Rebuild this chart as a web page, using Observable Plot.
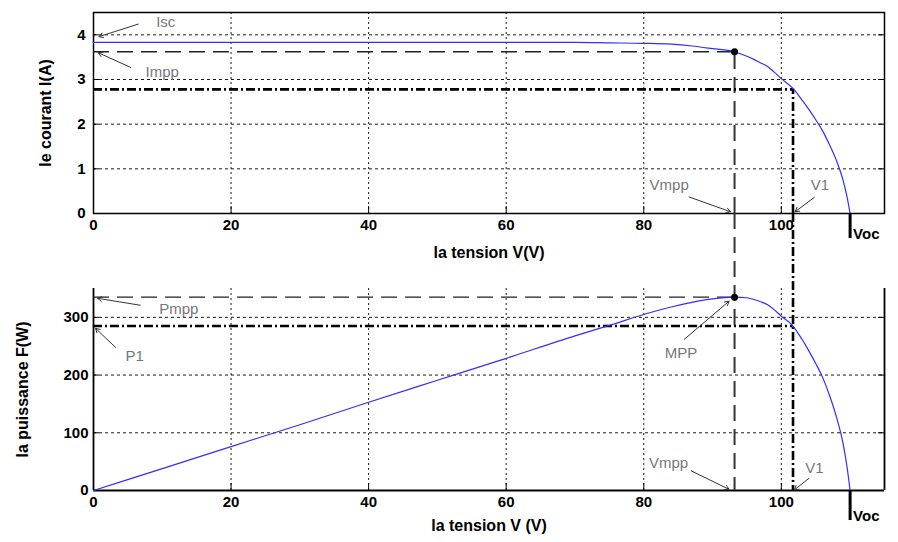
<!DOCTYPE html>
<html><head><meta charset="utf-8">
<script src="https://cdn.jsdelivr.net/npm/d3@7"></script>
<script src="https://cdn.jsdelivr.net/npm/@observablehq/plot@0.6"></script>
<style>
body{margin:0;background:#fff;width:898px;height:542px;overflow:hidden}
#chart{position:relative;width:898px;height:542px}
#chart svg{display:block;overflow:visible;background:transparent}
</style></head><body><div id="chart"></div>
<script>
// ---- data ----
const voltage = [0,10,20,30,40,50,60,70,75,80,84,87,90,93.2,95,96,97,98,99,100,101.7,103,104,105,106,107,108,109,109.5,110];
const current = [3.83,3.83,3.83,3.83,3.83,3.83,3.83,3.83,3.82,3.81,3.79,3.75,3.69,3.62,3.52,3.45,3.37,3.29,3.16,3.02,2.8,2.54,2.33,2.1,1.85,1.54,1.19,0.73,0.41,0];
const power   = [0,38,76,114,153,191,229,268,286,305,318,326,332,335,334,331,327,322,313,302,285,262,242,220,196,165,128,80,45,0];

const xTicks = [0,20,40,60,80,100];
const iTicks = [0,1,2,3,4];
const pTicks = [0,100,200,300];

const Isc = 3.83, Voc = 110, Vmpp = 93.2, Impp = 3.62, Pmpp = 335, V1 = 101.7, I1 = 2.78, P1 = 285;

const topNotes = [
  {label:"Isc",  tx:10.5,  ty:4.29, x1:6.5,  y1:4.24, x2:0.8,  y2:3.96},
  {label:"Impp", tx:10,    ty:3.17, x1:5.4,  y1:3.27, x2:0.7,  y2:3.6},
  {label:"Vmpp", tx:83.7,  ty:0.63, x1:86.6, y1:0.37, x2:92.6, y2:0.04},
  {label:"V1",   tx:105.6, ty:0.63, x1:104.8,y1:0.36, x2:102,  y2:0.04}
];
const botNotes = [
  {label:"Pmpp", tx:12.4,  ty:314, x1:6.8,  y1:321, x2:0.6,  y2:333},
  {label:"P1",   tx:6,     ty:233, x1:3.2,  y1:248, x2:0.3,  y2:281},
  {label:"MPP",  tx:85.4,  ty:238, x1:85.9, y1:262, x2:92.4, y2:328},
  {label:"Vmpp", tx:83.6,  ty:47,  x1:86.9, y1:34,  x2:92.4, y2:2},
  {label:"V1",   tx:104.8, ty:38,  x1:104,  y1:21,  x2:101.9,y2:1}
];

// ---- layout / style ----
const FONT = "'Liberation Sans', Arial, sans-serif";
const W = 898, ML = 93, MR = 14;
const innerW = W - ML - MR;
const TOP = {h:265, mt:12, mb:52};
const BOT = {h:277, mt:23, mb:52};
const topInnerH = TOP.h - TOP.mt - TOP.mb;
const botInnerH = BOT.h - BOT.mt - BOT.mb;

const gridH = {stroke:"#000", strokeWidth:0.9, strokeDasharray:"3,3"};
const gridV = {stroke:"#000", strokeWidth:0.9, strokeDasharray:"2,3"};
const longDash = {stroke:"#222", strokeWidth:1.4, strokeDasharray:"16,8"};
const vDash = {stroke:"#333", strokeWidth:2, strokeDasharray:"16,8"};
const dashDot = {stroke:"#000", strokeWidth:2.6, strokeDasharray:"9,3,2,3"};
const curve = {stroke:"#2f2fff", strokeWidth:1.2, curve:"monotone-x"};
const noteText = {fill:"#777", fontSize:15};
const noteArrow = {stroke:"#333", strokeWidth:1, headLength:7};
const style = {fontFamily:FONT, fontSize:"15px", overflow:"visible", background:"transparent", color:"#000"};

const ivData = voltage.map((v,k)=>({v, i:current[k]}));
const pvData = voltage.map((v,k)=>({v, p:power[k]}));

const topPlot = Plot.plot({
  width:W, height:TOP.h, marginTop:TOP.mt, marginBottom:TOP.mb, marginLeft:ML, marginRight:MR,
  x:{domain:[0,115]}, y:{domain:[0,4.5]}, style,
  marks:[
    Plot.ruleX(xTicks.slice(1), gridV),
    Plot.ruleY(iTicks.slice(1), gridH),
    Plot.ruleX(xTicks, {stroke:"#000", insetTop:topInnerH-7}),
    Plot.ruleY(iTicks, {stroke:"#000", insetRight:innerW-6}),
    Plot.ruleY(iTicks, {stroke:"#000", insetLeft:innerW-6}),
    Plot.frame({stroke:"#000", strokeWidth:1.5}),
    Plot.axisX(xTicks, {tickSize:0, tickPadding:6, fontWeight:"bold", label:null}),
    Plot.axisY(iTicks, {tickSize:0, tickPadding:8, fontWeight:"bold", label:null}),
    Plot.ruleY([{y:Impp, x1:0, x2:Vmpp}], {y:"y", x1:"x1", x2:"x2", ...longDash}),
    Plot.ruleX([{x:Vmpp, y1:0, y2:Impp}], {x:"x", y1:"y1", y2:"y2", ...vDash}),
    Plot.ruleY([{y:I1, x1:0, x2:V1}], {y:"y", x1:"x1", x2:"x2", ...dashDot}),
    Plot.ruleX([{x:V1, y1:0, y2:I1}], {x:"x", y1:"y1", y2:"y2", ...dashDot}),
    Plot.line(ivData, {x:"v", y:"i", ...curve}),
    Plot.dot([{v:Vmpp, i:Impp}], {x:"v", y:"i", r:3.5, fill:"#000"}),
    Plot.ruleX([Voc], {stroke:"#000", strokeWidth:3, insetTop:topInnerH, insetBottom:-25}),
    Plot.text([Voc], {x:d=>d, frameAnchor:"bottom", dy:25, dx:3, text:()=>"Voc", textAnchor:"start", fontWeight:"bold", fontSize:15}),
    Plot.arrow(topNotes, {x1:"x1", y1:"y1", x2:"x2", y2:"y2", ...noteArrow}),
    Plot.text(topNotes, {x:"tx", y:"ty", text:"label", ...noteText}),
    Plot.text(["le courant I(A)"], {frameAnchor:"left", dx:-48, rotate:-90, textAnchor:"middle", text:d=>d, fontWeight:"bold", fontSize:16}),
    Plot.text(["la tension V(V)"], {frameAnchor:"bottom", dy:44, text:d=>d, fontWeight:"bold", fontSize:16})
  ]
});

const gap = BOT.mt + TOP.mb;
const botPlot = Plot.plot({
  width:W, height:BOT.h, marginTop:BOT.mt, marginBottom:BOT.mb, marginLeft:ML, marginRight:MR,
  x:{domain:[0,115]}, y:{domain:[0,350]}, style,
  marks:[
    Plot.ruleX(xTicks.slice(1), gridV),
    Plot.ruleY(pTicks.slice(1), gridH),
    Plot.ruleX(xTicks, {stroke:"#000", insetTop:botInnerH-7}),
    Plot.ruleY(pTicks, {stroke:"#000", insetRight:innerW-6}),
    Plot.ruleY(pTicks, {stroke:"#000", insetLeft:innerW-6}),
    Plot.ruleX([0, 115], {stroke:"#000", strokeWidth:1.8}),
    Plot.ruleY([0], {stroke:"#000", strokeWidth:1.8}),
    Plot.axisX(xTicks, {tickSize:0, tickPadding:6, fontWeight:"bold", label:null}),
    Plot.axisY(pTicks, {tickSize:0, tickPadding:5, fontWeight:"bold", label:null}),
    Plot.ruleY([{y:Pmpp, x1:0, x2:Vmpp}], {y:"y", x1:"x1", x2:"x2", ...longDash}),
    Plot.ruleY([{y:P1, x1:0, x2:V1}], {y:"y", x1:"x1", x2:"x2", ...dashDot}),
    Plot.ruleX([Vmpp], {...vDash, insetTop:-gap}),
    Plot.ruleX([V1], {...dashDot, insetTop:-gap}),
    Plot.line(pvData, {x:"v", y:"p", ...curve}),
    Plot.dot([{v:Vmpp, p:Pmpp}], {x:"v", y:"p", r:3.5, fill:"#000"}),
    Plot.ruleX([Voc], {stroke:"#000", strokeWidth:3, insetTop:botInnerH, insetBottom:-30}),
    Plot.text([Voc], {x:d=>d, frameAnchor:"bottom", dy:30, dx:3, text:()=>"Voc", textAnchor:"start", fontWeight:"bold", fontSize:15}),
    Plot.arrow(botNotes, {x1:"x1", y1:"y1", x2:"x2", y2:"y2", ...noteArrow}),
    Plot.text(botNotes, {x:"tx", y:"ty", text:"label", ...noteText}),
    Plot.text(["la puissance F(W)"], {frameAnchor:"left", dx:-71, rotate:-90, textAnchor:"middle", text:d=>d, fontWeight:"bold", fontSize:16}),
    Plot.text(["la tension V (V)"], {frameAnchor:"bottom", dy:40, text:d=>d, fontWeight:"bold", fontSize:16})
  ]
});

const root = document.getElementById("chart");
root.appendChild(topPlot);
root.appendChild(botPlot);
</script></body></html>
